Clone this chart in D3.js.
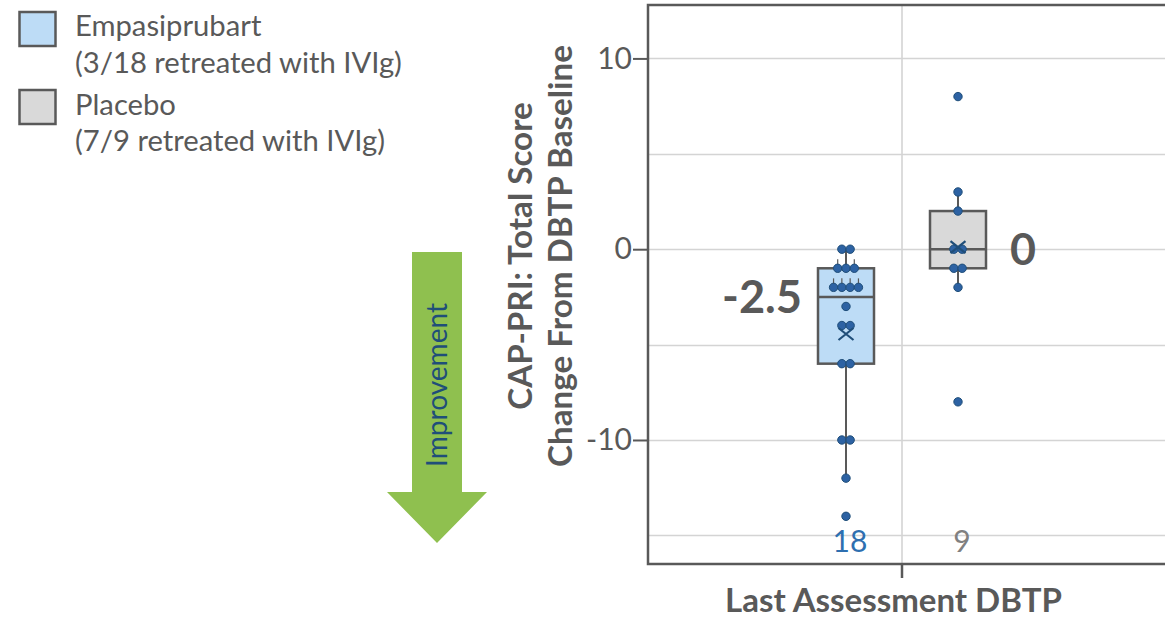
<!DOCTYPE html>
<html><head><meta charset="utf-8">
<script src="https://cdn.jsdelivr.net/npm/d3@7"></script>
<style>
body{margin:0;background:#fff;}
svg{display:block;font-family:Lato,"Open Sans",sans-serif;}
</style>
</head><body>
<svg id="chart" width="1165" height="619"></svg>
<script>
// ---------------- data ----------------
const categories = ["Last Assessment DBTP"];
const seriesNames = ["Empasiprubart", "Placebo"];
const legendLines = [
  ["Empasiprubart", "(3/18 retreated with IVIg)"],
  ["Placebo", "(7/9 retreated with IVIg)"]
];
const empasiprubartValues = [0, 0, -1, -1, -1, -2, -2, -2, -2, -3, -4, -4, -6, -6, -10, -10, -12, -14];
const placeboValues = [8, 3, 2, 0, 0, -1, -1, -2, -8];
const boxQ1 = [-6, -1];
const boxMedian = [-2.5, 0];
const boxQ3 = [-1, 2];
const whiskerLow = [-12, -2];
const whiskerHigh = [0, 3];
const medianLabels = ["-2.5", "0"];
const nLabels = ["18", "9"];
const yTickValues = [10, 0, -10];
const yTickLabels = ["10", "0", "-10"];
const yGridValues = [10, 5, 0, -5, -10, -15];
const yDomain = [-16.5, 12.8];
const yTitleLines = ["CAP-PRI: Total Score", "Change From DBTP Baseline"];
const arrowLabel = "Improvement";

// ---------------- styles ----------------
const grey = "#595959";
const boxFills = ["#bddcf6", "#d9d9d9"];
const nColors = ["#2e6fb0", "#808080"];
const dotFill = "#2d62a3";
const dotStroke = "#1f4e79";

const svg = d3.select("#chart");
const plot = {left: 648, top: 5, bottom: 564, right: 1180};

const y = d3.scaleLinear().domain(yDomain).range([plot.bottom, plot.top]);
const x = d3.scaleBand().domain(categories).range([plot.left, 1156]);
const xs = d3.scaleBand().domain(seriesNames).range([-112, 112]);
const cx = i => x(categories[0]) + x.bandwidth() / 2 + xs(seriesNames[i]) + xs.bandwidth() / 2;
const boxW = xs.bandwidth() * 0.5;

function fit(sel, target) {
  const w = sel.node().getComputedTextLength();
  const fs = parseFloat(sel.attr("font-size"));
  sel.attr("font-size", fs * target / w);
  return fs * target / w;
}

// gridlines
svg.append("g").selectAll("line").data(yGridValues).join("line")
  .attr("x1", plot.left).attr("x2", plot.right)
  .attr("y1", d => Math.round(y(d)) + 0.5).attr("y2", d => Math.round(y(d)) + 0.5)
  .attr("stroke", "#d4d4d4").attr("stroke-width", 1.6);
const catCenter = x(categories[0]) + x.bandwidth() / 2;
svg.append("line").attr("x1", catCenter).attr("x2", catCenter)
  .attr("y1", plot.top).attr("y2", plot.bottom)
  .attr("stroke", "#d4d4d4").attr("stroke-width", 1.6);

// y axis
const yAxis = svg.append("g").attr("transform", `translate(${plot.left},0)`)
  .call(d3.axisLeft(y).tickValues(yTickValues).tickSize(15).tickPadding(1)
    .tickFormat((d, i) => yTickLabels[i]));
yAxis.select(".domain").remove();
yAxis.selectAll(".tick line").attr("stroke", grey).attr("stroke-width", 2);
yAxis.selectAll(".tick text").attr("font-family", "Lato").attr("font-size", 30).attr("fill", grey);

// x axis
const xAxis = svg.append("g").attr("transform", `translate(0,${plot.bottom})`)
  .call(d3.axisBottom(x).tickSize(14).tickFormat(""));
xAxis.select(".domain").remove();
xAxis.selectAll(".tick line").attr("stroke", grey).attr("stroke-width", 2.5);

// frame
svg.append("path")
  .attr("d", `M${plot.right},${plot.top}H${plot.left}V${plot.bottom}H${plot.right}`)
  .attr("fill", "none").attr("stroke", grey).attr("stroke-width", 2.5);

// boxes
const allValues = [empasiprubartValues, placeboValues];
seriesNames.forEach((s, i) => {
  const c = cx(i);
  const g = svg.append("g");
  g.append("line").attr("x1", c).attr("x2", c).attr("y1", y(whiskerHigh[i])).attr("y2", y(whiskerLow[i]))
    .attr("stroke", grey).attr("stroke-width", 2);
  g.append("rect").attr("x", c - boxW / 2).attr("width", boxW)
    .attr("y", y(boxQ3[i])).attr("height", y(boxQ1[i]) - y(boxQ3[i]))
    .attr("fill", boxFills[i]).attr("stroke", grey).attr("stroke-width", 2.5);
  g.append("line").attr("x1", c - boxW / 2).attr("x2", c + boxW / 2)
    .attr("y1", y(boxMedian[i])).attr("y2", y(boxMedian[i]))
    .attr("stroke", grey).attr("stroke-width", 2.5);

  // points, duplicates spread side by side
  const groups = d3.group(allValues[i], v => v);
  const pts = [];
  groups.forEach((arr, v) => arr.forEach((_, k) => pts.push({v, k, n: arr.length})));
  const step = 8.3;
  g.selectAll("line.stem").data(pts.filter(p => p.n >= 3)).join("line")
    .attr("class", "stem")
    .attr("x1", p => c + (p.k - (p.n - 1) / 2) * step).attr("x2", p => c + (p.k - (p.n - 1) / 2) * step)
    .attr("y1", p => y(p.v) - 3).attr("y2", p => y(p.v) - 9)
    .attr("stroke", grey).attr("stroke-width", 1.2);
  g.selectAll("circle").data(pts).join("circle")
    .attr("cx", p => c + (p.k - (p.n - 1) / 2) * step)
    .attr("cy", p => y(p.v)).attr("r", 4.2)
    .attr("fill", dotFill).attr("stroke", dotStroke).attr("stroke-width", 1);

  // mean marker
  const m = d3.mean(allValues[i]);
  const h = 7.5, hv = 6;
  g.append("path")
    .attr("d", `M${c - h},${y(m) - hv}L${c + h},${y(m) + hv}M${c + h},${y(m) - hv}L${c - h},${y(m) + hv}`)
    .attr("stroke", dotStroke).attr("stroke-width", 2.2).attr("fill", "none");

  // median label
  const ml = svg.append("text").text(medianLabels[i])
    .attr("font-weight", "bold").attr("font-size", 40).attr("fill", grey)
    .attr("y", y(boxMedian[i])).attr("dy", "0.36em");
  if (i === 0) {
    ml.attr("text-anchor", "end").attr("x", c - boxW / 2 - 16);
    fit(ml, 80);
  } else {
    ml.attr("text-anchor", "start").attr("x", c + boxW / 2 + 24);
    fit(ml, 26);
  }

  // n label
  svg.append("text").text(nLabels[i]).attr("text-anchor", "middle")
    .attr("x", c + 4).attr("y", 552).attr("font-size", 30).attr("fill", nColors[i]);
});

// y title
const ytg = svg.append("g").attr("transform", "translate(0,256) rotate(-90)");
const yt2 = ytg.append("text").text(yTitleLines[1]).attr("text-anchor", "middle")
  .attr("x", 0).attr("y", 572).attr("font-weight", "bold").attr("font-size", 26).attr("fill", grey);
const ytSize = fit(yt2, 422);
ytg.append("text").text(yTitleLines[0]).attr("text-anchor", "middle")
  .attr("x", 0).attr("y", 532).attr("font-weight", "bold").attr("font-size", ytSize).attr("fill", grey);

// x title
const xt = svg.append("text").text(categories[0]).attr("text-anchor", "middle")
  .attr("x", 893.5).attr("y", 612).attr("font-weight", "bold").attr("font-size", 30).attr("fill", grey);
fit(xt, 337);

// legend
const lg = svg.append("g");
const sqY = [12, 90];
const lineBase = [[36, 73], [115, 151]];
let legSize = null;
legendLines.forEach((lines, i) => {
  lg.append("rect").attr("x", 19.5).attr("y", sqY[i]).attr("width", 36).attr("height", 34)
    .attr("fill", boxFills[i]).attr("stroke", grey).attr("stroke-width", 2.5);
  lines.forEach((t, j) => {
    const tx = lg.append("text").text(t).attr("x", 75).attr("y", lineBase[i][j])
      .attr("font-size", 28).attr("fill", grey);
    if (i === 0 && j === 1) legSize = fit(tx, 327);
  });
});
lg.selectAll("text").attr("font-size", legSize);

// improvement arrow
const arrow = {x0: 412, x1: 462, top: 252, neck: 492, hx0: 387, hx1: 487, tip: 543};
svg.append("path")
  .attr("d", `M${arrow.x0},${arrow.top}H${arrow.x1}V${arrow.neck}H${arrow.hx1}L${(arrow.hx0 + arrow.hx1) / 2},${arrow.tip}L${arrow.hx0},${arrow.neck}H${arrow.x0}Z`)
  .attr("fill", "#8fc04f");
const at = svg.append("text").text(arrowLabel).attr("text-anchor", "middle")
  .attr("transform", `translate(${(arrow.x0 + arrow.x1) / 2},385) rotate(-90)`)
  .attr("dy", "0.36em").attr("font-size", 20).attr("fill", "#1f4e79");
fit(at, 164);
</script>
</body></html>
